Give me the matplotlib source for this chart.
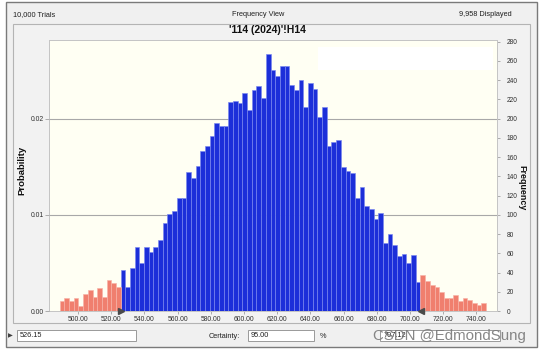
import numpy as np
import matplotlib
matplotlib.use("Agg")
import matplotlib.pyplot as plt
from matplotlib.patches import Rectangle

plt.rcParams['font.family'] = ['Liberation Sans', 'DejaVu Sans']

# ---------------- data ----------------
trials = 10000
displayed = "9,958 Displayed"
title = "'114 (2024)'!H14"
bin_low = 488.96
bin_high = 745.9
counts_left_tail = [10, 13, 10, 13, 5, 18, 22, 15, 24, 15, 32, 29, 25]
counts_center = [43, 25, 45, 67, 50, 67, 61, 67, 74, 91,
                 101, 104, 117, 118, 145, 138, 151, 166, 172, 182,
                 196, 192, 192, 217, 218, 216, 227, 209, 230, 234,
                 222, 267, 251, 244, 255, 255, 235, 230, 240, 212,
                 237, 231, 202, 212, 172, 176, 178, 150, 146, 144,
                 117, 129, 109, 106, 96, 102, 71, 80, 69, 57,
                 59, 50, 58, 30]
counts_right_tail = [37, 31, 27, 25, 20, 13, 14, 17, 10, 13, 11, 8, 6, 8]
lower_bound = 526.15
upper_bound = 706.5
certainty = "95.00"
upper_text = "707.12"
x_ticks = [500, 520, 540, 560, 580, 600, 620, 640, 660, 680, 700, 720, 740]
freq_ticks = list(range(0, 281, 20))
prob_ticks = [0.00, 0.01, 0.02]

counts = np.array(counts_left_tail + counts_center + counts_right_tail)
edges = np.linspace(bin_low, bin_high, len(counts) + 1)
centers = (edges[:-1] + edges[1:]) / 2
width = edges[1] - edges[0]
inside = (centers > lower_bound) & (centers < upper_bound)

BLUE = '#1c2fd9'
BLUE_E = '#7a88f0'
RED = '#f07f6e'
RED_E = '#f7b3a8'

W, H = 541, 354
fig = plt.figure(figsize=(W / 100, H / 100), dpi=100)
fig.patch.set_facecolor('white')


def box(x0, y0, x1, y1, fc, ec, lw=0.8, z=-2):
    r = Rectangle((x0 / W, 1 - y1 / H), (x1 - x0) / W, (y1 - y0) / H,
                  transform=fig.transFigure, facecolor=fc, edgecolor=ec,
                  lw=lw, zorder=z)
    fig.add_artist(r)


def ftext(x, y, s, **kw):
    fig.text(x / W, 1 - y / H, s, **kw)


# frames
box(6, 2, 537, 347, '#f0f0f0', '#7a7a7a', lw=1.0, z=-3)
box(13, 24, 530, 323, '#f2f2f2', '#b4b4b4', lw=0.8, z=-2)

# ---------------- axes ----------------
ax = fig.add_axes([49 / W, 1 - 311 / H, (497 - 49) / W, (311 - 40) / H])
ax.set_facecolor('#fffff3')
ax.bar(edges[:-1][inside], counts[inside], width=width, align='edge',
       color=BLUE, edgecolor=BLUE_E, linewidth=0.45, zorder=2)
ax.bar(edges[:-1][~inside], counts[~inside], width=width, align='edge',
       color=RED, edgecolor=RED_E, linewidth=0.45, zorder=2)
for g in (100, 200):
    ax.axhline(g, color='#a8a8a8', lw=0.8, zorder=0.5)

ymax = 281.8
ax.set_xlim(482.5, 752.5)
ax.set_ylim(0, ymax)
ax.set_xticks(x_ticks)
ax.set_xticklabels([f"{v:.2f}" for v in x_ticks])

ax2 = ax.twinx()
ax2.set_ylim(0, ymax / trials)
ax2.set_yticks(prob_ticks)
ax2.set_yticklabels([f"{v:.2f}" for v in prob_ticks])
ax2.yaxis.tick_left()
ax2.tick_params(axis='y', labelsize=4.9, length=2.6, width=0.6,
                color='#a0a0a0', labelcolor='#303030', pad=1.2)
for sp in ax2.spines.values():
    sp.set_visible(False)

ax.yaxis.tick_right()
ax.set_yticks(freq_ticks)
ax.tick_params(axis='y', labelsize=4.8, length=2.2, width=0.6,
               color='#a0a0a0', labelcolor='#303030', pad=5)
ax.tick_params(axis='x', labelsize=4.9, length=1.8, width=0.6,
               color='#a0a0a0', labelcolor='#303030', pad=1.6)
for sp in ax.spines.values():
    sp.set_color('#c4c4c4')
    sp.set_linewidth(0.7)

# certainty markers
ax.plot([lower_bound], [0], marker='>', ms=4.2, color='#4a4a4a',
        clip_on=False, zorder=5)
ax.plot([upper_bound], [0], marker='<', ms=4.2, color='#4a4a4a',
        clip_on=False, zorder=5)

# blank white label box in plot
box(318, 47, 493, 70, 'white', 'none', lw=0, z=1)

# ---------------- texts ----------------
hdr = dict(fontsize=5.3, color='#202020', va='center')
ftext(13, 15, f"{trials:,} Trials", ha='left', **hdr)
ftext(258, 15, "Frequency View", ha='center', **hdr)
ftext(512, 15, displayed, ha='right', **hdr)
ftext(267, 30, title, ha='center', va='center', fontsize=7.5,
      fontweight='bold', color='#101010')
ftext(21.5, 170, "Probability", rotation=90, ha='center', va='center',
      fontsize=6.8, fontweight='bold', color='#101010')
ftext(522, 188, "Frequency", rotation=270, ha='center', va='center',
      fontsize=6.4, fontweight='bold', color='#101010')

# bottom controls
box(17, 330, 136, 341, 'white', '#9a9a9a', lw=0.7, z=1)
ftext(20, 335.7, f"{lower_bound:.2f}", ha='left', va='center', fontsize=5.3,
      color='#202020')
ftext(10, 336, "\u25B6", ha='center', va='center', fontsize=4.5,
      color='#404040', family=['DejaVu Sans'])
ftext(209, 336, "Certainty:", ha='left', va='center', fontsize=5.3,
      color='#202020')
box(248, 330, 314, 341, 'white', '#9a9a9a', lw=0.7, z=1)
ftext(251, 335.7, certainty, ha='left', va='center', fontsize=5.3,
      color='#202020')
ftext(320, 336.5, "%", ha='left', va='center', fontsize=5.3, color='#202020')
box(380, 330, 500, 341, 'white', '#9a9a9a', lw=0.7, z=1)
ftext(384, 335.7, upper_text, ha='left', va='center', fontsize=5.3,
      color='#202020')

# watermark
ftext(373, 336, "CSDN @EdmondSung", ha='left', va='center', fontsize=10.8,
      color='#7a7a7a', alpha=0.9, zorder=6)

fig.savefig('out.png', dpi=100, facecolor=fig.get_facecolor())
